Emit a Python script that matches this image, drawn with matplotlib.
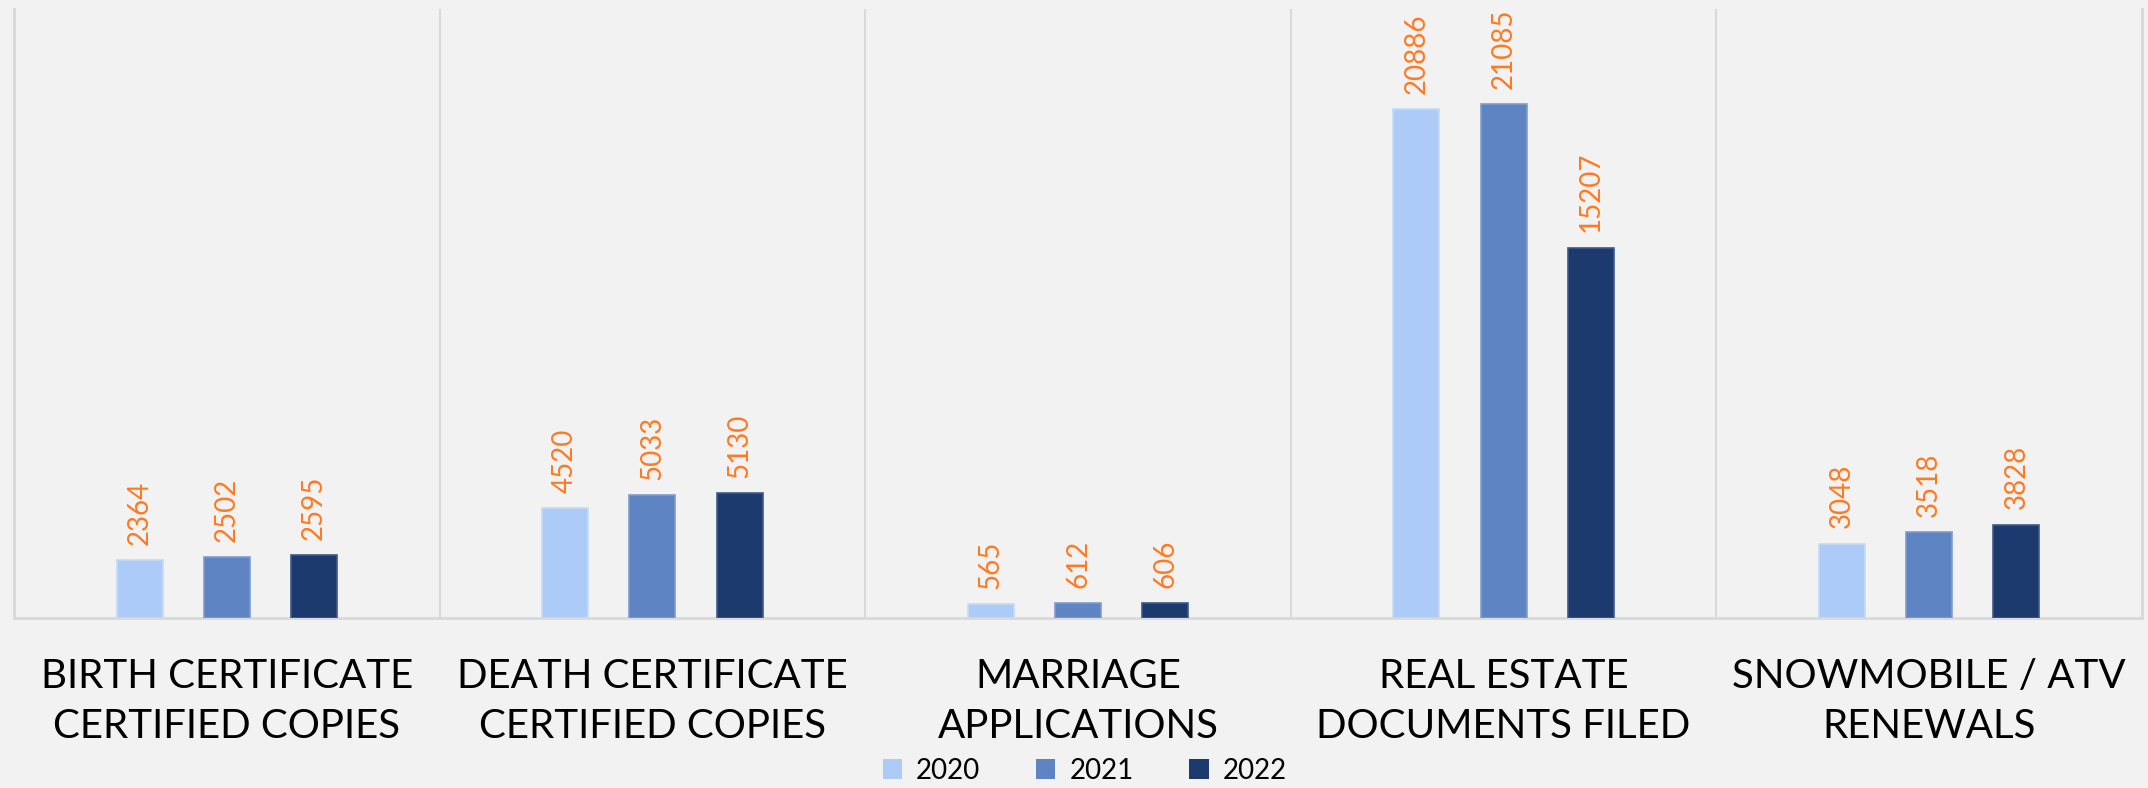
import matplotlib
matplotlib.use("Agg")
import matplotlib.pyplot as plt
import numpy as np
from matplotlib.patches import Patch

categories = ["BIRTH CERTIFICATE\nCERTIFIED COPIES",
              "DEATH CERTIFICATE\nCERTIFIED COPIES",
              "MARRIAGE\nAPPLICATIONS",
              "REAL ESTATE\nDOCUMENTS FILED",
              "SNOWMOBILE / ATV\nRENEWALS"]
years = ["2020", "2021", "2022"]
v2020 = [2364, 4520, 565, 20886, 3048]
v2021 = [2502, 5033, 612, 21085, 3518]
v2022 = [2595, 5130, 606, 15207, 3828]
series = [v2020, v2021, v2022]
colors = ["#ADCBF7", "#5E84C4", "#1C3A6E"]
edges = ["#C5DAF8", "#7E9DD0", "#3E5A8A"]

plt.rcParams['font.family'] = ['Lato', 'DejaVu Sans']
BG = "#F2F2F2"
fig = plt.figure(figsize=(21.48, 7.88), dpi=100, facecolor=BG)
ax = fig.add_axes([14/2148, 1-618/788, (2142-14)/2148, (618-9)/788])
ax.set_facecolor(BG)

x = np.arange(len(categories))
width = 0.108
offs = [-0.205, 0.0, 0.205]
for i, (vals, c, e, off) in enumerate(zip(series, colors, edges, offs)):
    bars = ax.bar(x + off, vals, width=width, color=c, edgecolor=e, linewidth=1.2,
                  label=years[i], zorder=3)
    for b, v in zip(bars, vals):
        ax.annotate(str(v), (b.get_x() + b.get_width()/2, b.get_height()),
                    xytext=(0, 11), textcoords='offset points', rotation=90,
                    ha='center', va='bottom', color="#FF7A21", fontsize=20)

ax.set_xlim(-0.5, len(categories) - 0.5)
ax.set_ylim(0, 25000)
ax.set_yticks([])
ax.set_xticks([])
for s in ['top']:
    ax.spines[s].set_visible(False)
for s in ['left', 'right', 'bottom']:
    ax.spines[s].set_color("#D9D9D9")
    ax.spines[s].set_linewidth(2)
for k in range(1, len(categories)):
    ax.axvline(k - 0.5, color="#D9D9D9", linewidth=1.5, zorder=1)

for xi, lab in zip(x, categories):
    ax.text(xi, -0.066, lab, transform=ax.get_xaxis_transform(), ha='center', va='top',
            fontsize=29, color="#000000", linespacing=1.42)

handles = [Patch(facecolor=c, edgecolor='none', label=y) for c, y in zip(colors, years)]
fig.legend(handles=handles, loc='center', bbox_to_anchor=(0.505, 0.022), ncol=3,
           frameon=False, fontsize=20, handlelength=0.7, handleheight=0.7,
           columnspacing=2.0, handletextpad=0.5)

fig.savefig("out.png", dpi=100, facecolor=BG)
